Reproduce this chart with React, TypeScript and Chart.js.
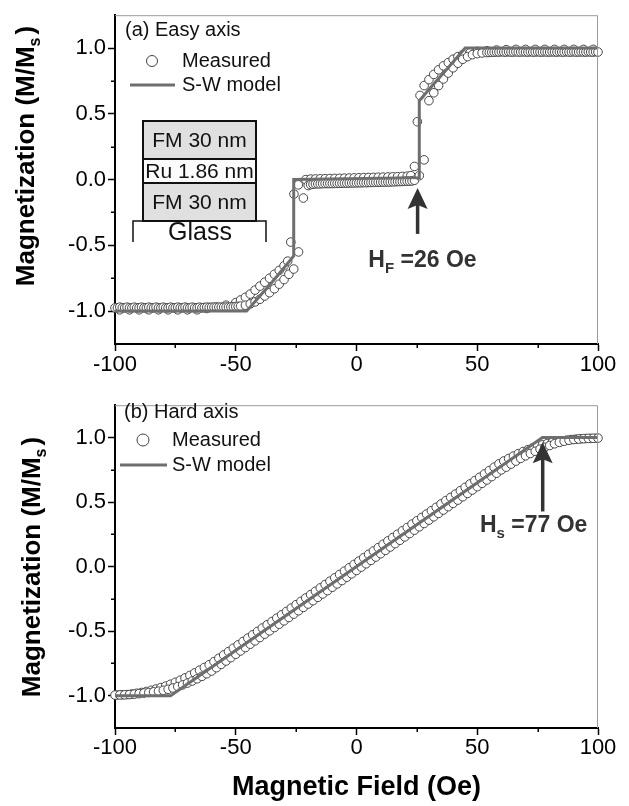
import React, { useEffect, useRef } from "react";
import { Chart, registerables } from "chart.js";

Chart.register(...registerables);

type Pt = [number, number];

const FONT = '"Liberation Sans", Arial, Helvetica, sans-serif';

// ---------- axis ticks ----------
const fieldMajorTicks = [-100, -50, 0, 50, 100];
const fieldMinorTicks = [-75, -25, 25, 75];
const magMajorTicks = [-1, -0.5, 0, 0.5, 1];
const magMinorTicks = [-0.75, -0.25, 0.25, 0.75];

// ---------- text ----------
const seriesNames = ["Measured", "S-W model"];
const panelTitles = ["(a) Easy axis", "(b) Hard axis"];
const insetLayers = ["FM 30 nm", "Ru 1.86 nm", "FM 30 nm"];
const substrateLabel = "Glass";
const xAxisTitle = "Magnetic Field (Oe)";

// ---------- (a) easy axis: measured, field sweep up ----------
const easyMeasuredUp: Pt[] = [
  [-100, -0.975], [-99, -0.975], [-98, -0.97], [-97, -0.975], [-96, -0.975], [-95, -0.97],
  [-94, -0.975], [-93, -0.975], [-92, -0.97], [-91, -0.975], [-90, -0.975], [-89, -0.97],
  [-88, -0.975], [-87, -0.975], [-86, -0.97], [-85, -0.975], [-84, -0.975], [-83, -0.97],
  [-82, -0.975], [-81, -0.975], [-80, -0.97], [-79, -0.975], [-78, -0.975], [-77, -0.97],
  [-76, -0.975], [-75, -0.975], [-74, -0.97], [-73, -0.975], [-72, -0.975], [-71, -0.97],
  [-70, -0.975], [-69, -0.975], [-68, -0.97], [-67, -0.975], [-66, -0.975], [-65, -0.97],
  [-64, -0.975], [-63, -0.972], [-62, -0.97], [-61, -0.972], [-60, -0.97], [-59, -0.97],
  [-58, -0.97], [-57, -0.97], [-56, -0.97], [-55, -0.97], [-54, -0.97], [-53, -0.969],
  [-52, -0.968], [-51, -0.967], [-50, -0.965], [-49, -0.964], [-48, -0.962], [-46, -0.955],
  [-44, -0.945], [-42, -0.93], [-40, -0.91], [-38, -0.885], [-36, -0.86], [-34, -0.83],
  [-32, -0.795], [-30, -0.76], [-28, -0.72], [-26, -0.68], [-24, -0.55], [-22, -0.14],
  [-20, -0.045], [-19, -0.038], [-18, -0.035], [-17, -0.033], [-16, -0.032], [-15, -0.032],
  [-14, -0.031], [-13, -0.03], [-12, -0.03], [-11, -0.03], [-10, -0.03], [-9, -0.029],
  [-8, -0.029], [-7, -0.028], [-6, -0.028], [-5, -0.027], [-4, -0.027], [-3, -0.026],
  [-2, -0.026], [-1, -0.025], [0, -0.025], [1, -0.024], [2, -0.024], [3, -0.023],
  [4, -0.023], [5, -0.022], [6, -0.022], [7, -0.021], [8, -0.021], [9, -0.02],
  [10, -0.02], [11, -0.019], [12, -0.019], [13, -0.018], [14, -0.018], [15, -0.017],
  [16, -0.016], [17, -0.015], [18, -0.015], [19, -0.014], [20, -0.013], [21, -0.012],
  [22, -0.012], [23, -0.01], [24, -0.005], [26, 0.03], [28, 0.15], [30, 0.6],
  [32, 0.66], [34, 0.715], [36, 0.765], [38, 0.81], [40, 0.85], [42, 0.885],
  [44, 0.915], [46, 0.935], [48, 0.95], [50, 0.958], [52, 0.963], [54, 0.966],
  [55, 0.967], [56, 0.968], [57, 0.969], [58, 0.97], [59, 0.97], [60, 0.972],
  [61, 0.97], [62, 0.97], [63, 0.972], [64, 0.97], [65, 0.97], [66, 0.972],
  [67, 0.97], [68, 0.97], [69, 0.972], [70, 0.97], [71, 0.97], [72, 0.972],
  [73, 0.97], [74, 0.97], [75, 0.972], [76, 0.97], [77, 0.97], [78, 0.972],
  [79, 0.97], [80, 0.97], [81, 0.972], [82, 0.97], [83, 0.97], [84, 0.972],
  [85, 0.97], [86, 0.97], [87, 0.972], [88, 0.97], [89, 0.97], [90, 0.972],
  [91, 0.97], [92, 0.97], [93, 0.972], [94, 0.97], [95, 0.97], [96, 0.972],
  [97, 0.97], [98, 0.97], [99, 0.972], [100, 0.97],
];

// ---------- (a) easy axis: measured, field sweep down ----------
const easyMeasuredDown: Pt[] = [
  [-98, -0.99], [-94, -0.99], [-90, -0.99], [-86, -0.99], [-82, -0.99], [-78, -0.99],
  [-74, -0.99], [-70, -0.99], [-66, -0.99], [-62, -0.98], [-58, -0.97], [-54, -0.955],
  [-50, -0.935], [-48, -0.915], [-46, -0.895], [-44, -0.87], [-42, -0.84], [-40, -0.81],
  [-38, -0.78], [-36, -0.75], [-34, -0.72], [-32, -0.69], [-30, -0.655], [-28.5, -0.62],
  [-27.2, -0.475], [-25.9, -0.11], [-24.1, -0.04], [-21, 0.0], [-19, 0.004], [-17, 0.005],
  [-15, 0.006], [-13, 0.007], [-11, 0.008], [-9, 0.009], [-7, 0.01], [-5, 0.011],
  [-3, 0.012], [-1, 0.013], [1, 0.014], [3, 0.015], [5, 0.016], [7, 0.017],
  [9, 0.018], [11, 0.019], [13, 0.02], [15, 0.021], [17, 0.022], [19, 0.024],
  [21, 0.026], [22.5, 0.03], [24, 0.1], [25.2, 0.44], [26.3, 0.64], [28, 0.715],
  [30, 0.76], [32, 0.8], [34, 0.835], [36, 0.865], [38, 0.89], [40, 0.915],
  [42, 0.935], [44, 0.95], [47, 0.965], [50, 0.975], [54, 0.98], [58, 0.985],
  [62, 0.988], [66, 0.99], [70, 0.99], [74, 0.99], [78, 0.99], [82, 0.99],
  [86, 0.99], [90, 0.99], [94, 0.99], [98, 0.99],
];

// ---------- (a) easy axis: S-W model ----------
const easyModel: Pt[] = [
  [-100, -1], [-45.5, -1], [-40, -0.885], [-35, -0.78], [-30, -0.67], [-26, -0.58],
  [-26, 0], [26, 0.015], [26, 0.6], [30, 0.685], [35, 0.79], [40, 0.895],
  [45, 1], [100, 1],
];

// ---------- (b) hard axis: measured, field sweep up ----------
const hardMeasuredUp: Pt[] = [
  [-100, -0.995], [-98, -0.994], [-96, -0.993], [-94, -0.991], [-92, -0.988], [-90, -0.984],
  [-88, -0.979], [-86, -0.975], [-84, -0.97], [-82, -0.965], [-80, -0.958], [-78, -0.95],
  [-76, -0.94], [-74, -0.929], [-72, -0.916], [-70, -0.902], [-68, -0.886], [-66, -0.869],
  [-64, -0.85], [-62, -0.83], [-60, -0.809], [-58, -0.783], [-56, -0.757], [-54, -0.731],
  [-52, -0.705], [-50, -0.679], [-48, -0.653], [-46, -0.627], [-44, -0.601], [-42, -0.575],
  [-40, -0.549], [-38, -0.523], [-36, -0.498], [-34, -0.472], [-32, -0.446], [-30, -0.42],
  [-28, -0.394], [-26, -0.368], [-24, -0.342], [-22, -0.316], [-20, -0.29], [-18, -0.264],
  [-16, -0.238], [-14, -0.212], [-12, -0.186], [-10, -0.16], [-8, -0.134], [-6, -0.108],
  [-4, -0.082], [-2, -0.056], [0, -0.03], [2, -0.004], [4, 0.022], [6, 0.048],
  [8, 0.074], [10, 0.1], [12, 0.126], [14, 0.152], [16, 0.178], [18, 0.204],
  [20, 0.23], [22, 0.256], [24, 0.282], [26, 0.308], [28, 0.334], [30, 0.36],
  [32, 0.386], [34, 0.412], [36, 0.438], [38, 0.464], [40, 0.49], [42, 0.515],
  [44, 0.541], [46, 0.567], [48, 0.593], [50, 0.619], [52, 0.645], [54, 0.671],
  [56, 0.697], [58, 0.723], [60, 0.749], [62, 0.77], [64, 0.794], [66, 0.817],
  [68, 0.838], [70, 0.858], [72, 0.876], [74, 0.893], [76, 0.91], [78, 0.924],
  [80, 0.938], [82, 0.951], [84, 0.962], [86, 0.971], [88, 0.979], [90, 0.984],
  [92, 0.988], [94, 0.991], [96, 0.993], [98, 0.994], [100, 0.995],
];

// ---------- (b) hard axis: measured, field sweep down ----------
const hardMeasuredDown: Pt[] = [
  [-99, -0.994], [-97, -0.993], [-95, -0.991], [-93, -0.987], [-91, -0.981], [-89, -0.975],
  [-87, -0.967], [-85, -0.958], [-83, -0.948], [-81, -0.937], [-79, -0.925], [-77, -0.911],
  [-75, -0.896], [-73, -0.88], [-71, -0.862], [-69, -0.843], [-67, -0.823], [-65, -0.802],
  [-63, -0.781], [-61, -0.76], [-59, -0.736], [-57, -0.71], [-55, -0.684], [-53, -0.658],
  [-51, -0.632], [-49, -0.606], [-47, -0.58], [-45, -0.554], [-43, -0.528], [-41, -0.502],
  [-39, -0.476], [-37, -0.451], [-35, -0.425], [-33, -0.399], [-31, -0.373], [-29, -0.347],
  [-27, -0.321], [-25, -0.295], [-23, -0.269], [-21, -0.243], [-19, -0.217], [-17, -0.191],
  [-15, -0.165], [-13, -0.139], [-11, -0.113], [-9, -0.087], [-7, -0.061], [-5, -0.035],
  [-3, -0.009], [-1, 0.017], [1, 0.043], [3, 0.069], [5, 0.095], [7, 0.121],
  [9, 0.147], [11, 0.173], [13, 0.199], [15, 0.225], [17, 0.251], [19, 0.277],
  [21, 0.303], [23, 0.329], [25, 0.355], [27, 0.381], [29, 0.407], [31, 0.433],
  [33, 0.459], [35, 0.485], [37, 0.511], [39, 0.536], [41, 0.562], [43, 0.588],
  [45, 0.614], [47, 0.64], [49, 0.666], [51, 0.692], [53, 0.718], [55, 0.744],
  [57, 0.77], [59, 0.796], [61, 0.818], [63, 0.837], [65, 0.856], [67, 0.875],
  [69, 0.891], [71, 0.906], [73, 0.92], [75, 0.932], [77, 0.943], [79, 0.953],
  [81, 0.961], [83, 0.968], [85, 0.974], [87, 0.979], [89, 0.984], [91, 0.987],
  [93, 0.99], [95, 0.992], [97, 0.993], [99, 0.994],
];

// ---------- (b) hard axis: S-W model ----------
const hardModel: Pt[] = [
  [-100, -1], [-77, -1], [77, 1], [100, 1],
];

// ---------- annotations (field / magnetization values they point at) ----------
const easyAnnotation = { main: "H", sub: "F", rest: " =26 Oe", arrowField: 25.3, tipMag: -0.064, tailMag: -0.413, textField: 4.9, textMag: -0.663 };
const hardAnnotation = { main: "H", sub: "s", rest: " =77 Oe", arrowField: 77.1, tipMag: 0.963, tailMag: 0.427, textField: 51.1, textMag: 0.265 };

interface PanelSpec {
  height: number;
  padTop: number;
  xAxisHeight: number;
  tickPad: number;
  measured: Pt[][];
  model: Pt[];
  title: string;
  legend: { titleX: number; titleY: number; circleX: number; circleY: number; circleR: number; lineX0: number; lineX1: number; lineY: number; textX: number };
  yTitleX: number;
  yTitleY: number;
  annotation: typeof easyAnnotation;
  inset: boolean;
  xTitleY: number | null;
}

const easySpec: PanelSpec = {
  height: 390,
  padTop: 8,
  xAxisHeight: 46,
  tickPad: 1,
  measured: [easyMeasuredUp, easyMeasuredDown],
  model: easyModel,
  title: panelTitles[0],
  legend: { titleX: 125, titleY: 30, circleX: 152, circleY: 61, circleR: 5.5, lineX0: 130, lineX1: 175, lineY: 85, textX: 182 },
  yTitleX: 34,
  yTitleY: 156,
  annotation: easyAnnotation,
  inset: true,
  xTitleY: null,
};

const hardSpec: PanelSpec = {
  height: 416,
  padTop: 3,
  xAxisHeight: 78,
  tickPad: 0,
  measured: [hardMeasuredUp, hardMeasuredDown],
  model: hardModel,
  title: panelTitles[1],
  legend: { titleX: 124, titleY: 22, circleX: 143, circleY: 50, circleR: 6, lineX0: 120, lineX1: 167, lineY: 75, textX: 172 },
  yTitleX: 40,
  yTitleY: 177,
  annotation: hardAnnotation,
  inset: false,
  xTitleY: 405,
};

type Part = { t: string; size: number; bold?: boolean; dy?: number; gap?: number };

function fontOf(p: Part) {
  return `${p.bold ? "bold " : ""}${p.size}px ${FONT}`;
}

function drawRich(ctx: CanvasRenderingContext2D, parts: Part[], x: number, y: number, align: "left" | "center") {
  ctx.textBaseline = "alphabetic";
  ctx.textAlign = "left";
  const widths = parts.map((p) => {
    ctx.font = fontOf(p);
    return ctx.measureText(p.t).width + (p.gap || 0);
  });
  const total = widths.reduce((a, b) => a + b, 0);
  let cx = align === "center" ? x - total / 2 : x;
  parts.forEach((p, i) => {
    ctx.font = fontOf(p);
    ctx.fillText(p.t, cx, y + (p.dy || 0));
    cx += widths[i];
  });
}

function decorPlugin(spec: PanelSpec) {
  return {
    id: "decor",
    afterDraw(chart: any) {
      const ctx: CanvasRenderingContext2D = chart.ctx;
      const area = chart.chartArea;
      const xs = chart.scales.x;
      const ys = chart.scales.y;
      ctx.save();

      // frame (top + right)
      ctx.strokeStyle = "#9a9a9a";
      ctx.lineWidth = 1;
      ctx.beginPath();
      ctx.moveTo(area.left, area.top + 0.5);
      ctx.lineTo(area.right - 0.5, area.top + 0.5);
      ctx.lineTo(area.right - 0.5, area.bottom);
      ctx.stroke();

      // minor ticks
      ctx.strokeStyle = "#000";
      ctx.lineWidth = 1.5;
      ctx.beginPath();
      fieldMinorTicks.forEach((v) => {
        const px = Math.round(xs.getPixelForValue(v)) + 0.25;
        ctx.moveTo(px, area.bottom);
        ctx.lineTo(px, area.bottom + 4);
      });
      magMinorTicks.forEach((v) => {
        const py = Math.round(ys.getPixelForValue(v)) + 0.25;
        ctx.moveTo(area.left, py);
        ctx.lineTo(area.left - 4, py);
      });
      ctx.stroke();

      ctx.fillStyle = "#000";
      // y-axis title
      ctx.save();
      ctx.translate(spec.yTitleX, spec.yTitleY);
      ctx.rotate(-Math.PI / 2);
      drawRich(
        ctx,
        [
          { t: "Magnetization (M/M", size: 26, bold: true },
          { t: "s", size: 16, bold: true, dy: 6, gap: 3 },
          { t: ")", size: 26, bold: true },
        ],
        0,
        0,
        "center"
      );
      ctx.restore();

      // x-axis title
      if (spec.xTitleY !== null) {
        drawRich(ctx, [{ t: xAxisTitle, size: 27, bold: true }], (area.left + area.right) / 2, spec.xTitleY, "center");
      }

      // legend
      const lg = spec.legend;
      ctx.font = `20px ${FONT}`;
      ctx.textBaseline = "middle";
      ctx.textAlign = "left";
      ctx.fillStyle = "#111";
      ctx.fillText(spec.title, lg.titleX, lg.titleY);
      ctx.fillText(seriesNames[0], lg.textX, lg.circleY);
      ctx.fillText(seriesNames[1], lg.textX, lg.lineY);
      ctx.beginPath();
      ctx.arc(lg.circleX, lg.circleY, lg.circleR, 0, Math.PI * 2);
      ctx.fillStyle = "#fff";
      ctx.fill();
      ctx.strokeStyle = "#404040";
      ctx.lineWidth = 1;
      ctx.stroke();
      ctx.beginPath();
      ctx.moveTo(lg.lineX0, lg.lineY);
      ctx.lineTo(lg.lineX1, lg.lineY);
      ctx.strokeStyle = "#6e6e6e";
      ctx.lineWidth = 3;
      ctx.stroke();

      // arrow + annotation
      const an = spec.annotation;
      const ax = xs.getPixelForValue(an.arrowField);
      const tipY = ys.getPixelForValue(an.tipMag);
      const tailY = ys.getPixelForValue(an.tailMag);
      ctx.fillStyle = "#333";
      ctx.strokeStyle = "#333";
      ctx.lineWidth = 3.5;
      ctx.beginPath();
      ctx.moveTo(ax, tailY);
      ctx.lineTo(ax, tipY + 15);
      ctx.stroke();
      ctx.beginPath();
      ctx.moveTo(ax, tipY);
      ctx.lineTo(ax - 10, tipY + 21);
      ctx.lineTo(ax, tipY + 17);
      ctx.lineTo(ax + 10, tipY + 21);
      ctx.closePath();
      ctx.fill();
      drawRich(
        ctx,
        [
          { t: an.main, size: 23, bold: true },
          { t: an.sub, size: 15, bold: true, dy: 6 },
          { t: an.rest, size: 23, bold: true },
        ],
        xs.getPixelForValue(an.textField),
        ys.getPixelForValue(an.textMag),
        "left"
      );

      // layer stack inset
      if (spec.inset) {
        const x0 = 143, x1 = 256;
        const yb = [121, 159, 183, 221];
        const fills = ["#e0e0e0", "#fbfbfb", "#e0e0e0"];
        for (let i = 0; i < 3; i++) {
          ctx.fillStyle = fills[i];
          ctx.fillRect(x0, yb[i], x1 - x0, yb[i + 1] - yb[i]);
          ctx.strokeStyle = "#111";
          ctx.lineWidth = 2;
          ctx.strokeRect(x0, yb[i], x1 - x0, yb[i + 1] - yb[i]);
          ctx.fillStyle = "#111";
          ctx.font = `21px ${FONT}`;
          ctx.textAlign = "center";
          ctx.textBaseline = "middle";
          ctx.fillText(insetLayers[i], (x0 + x1) / 2, (yb[i] + yb[i + 1]) / 2 + 1);
        }
        ctx.strokeStyle = "#111";
        ctx.lineWidth = 1.5;
        ctx.beginPath();
        ctx.moveTo(133, 242);
        ctx.lineTo(133, 221);
        ctx.lineTo(266, 221);
        ctx.lineTo(266, 242);
        ctx.stroke();
        ctx.fillStyle = "#111";
        ctx.font = `25px ${FONT}`;
        ctx.textAlign = "center";
        ctx.textBaseline = "alphabetic";
        ctx.fillText(substrateLabel, 200, 240);
      }
      ctx.restore();
    },
  };
}

function buildConfig(spec: PanelSpec): any {
  const measuredSets = spec.measured.map((pts, i) => ({
    label: seriesNames[0] + (i ? " (down)" : ""),
    data: pts.map(([x, y]) => ({ x, y })),
    showLine: false,
    pointStyle: "circle",
    pointRadius: 4.3,
    pointBorderWidth: 1,
    pointBorderColor: "#454545",
    pointBackgroundColor: "#ffffff",
    clip: false,
    order: 2 + i,
  }));
  return {
    type: "scatter",
    data: {
      datasets: [
        {
          label: seriesNames[1],
          data: spec.model.map(([x, y]) => ({ x, y })),
          showLine: true,
          borderColor: "#6e6e6e",
          borderWidth: 3,
          pointRadius: 0,
          tension: 0,
          order: 0,
        },
        ...measuredSets,
      ],
    },
    options: {
      responsive: false,
      animation: false,
      devicePixelRatio: 1,
      layout: { padding: { left: 0, right: 31, top: spec.padTop, bottom: 0 } },
      plugins: { legend: { display: false }, tooltip: { enabled: false }, title: { display: false } },
      scales: {
        x: {
          type: "linear",
          position: "bottom",
          min: -100,
          max: 100,
          afterBuildTicks: (s: any) => {
            s.ticks = fieldMajorTicks.map((v) => ({ value: v }));
          },
          afterFit: (s: any) => {
            s.height = spec.xAxisHeight;
          },
          ticks: {
            callback: (v: any) => String(v),
            font: { family: FONT, size: 22 },
            color: "#000",
            padding: spec.tickPad,
            maxRotation: 0,
            autoSkip: false,
          },
          grid: { display: true, drawOnChartArea: false, drawTicks: true, tickLength: 7, tickWidth: 1.5, tickColor: "#000" },
          border: { display: true, color: "#000", width: 2 },
        },
        y: {
          type: "linear",
          position: "left",
          min: -1.25,
          max: 1.25,
          afterBuildTicks: (s: any) => {
            s.ticks = magMajorTicks.map((v) => ({ value: v }));
          },
          afterFit: (s: any) => {
            s.width = 115;
          },
          ticks: {
            callback: (v: any) => Number(v).toFixed(1),
            font: { family: FONT, size: 22 },
            color: "#000",
            padding: 2,
            autoSkip: false,
          },
          grid: { display: true, drawOnChartArea: false, drawTicks: true, tickLength: 7, tickWidth: 1.5, tickColor: "#000" },
          border: { display: true, color: "#000", width: 2 },
        },
      },
    },
    plugins: [decorPlugin(spec)],
  };
}

function Panel({ spec }: { spec: PanelSpec }) {
  const ref = useRef<HTMLCanvasElement | null>(null);
  useEffect(() => {
    if (!ref.current) return;
    const chart = new Chart(ref.current, buildConfig(spec));
    return () => chart.destroy();
  }, [spec]);
  return (
    <canvas
      ref={ref}
      width={629}
      height={spec.height}
      style={{ display: "block", width: 629, height: spec.height }}
    />
  );
}

export default function App() {
  useEffect(() => {
    document.body.style.margin = "0";
    document.body.style.background = "#fff";
  }, []);
  return (
    <div style={{ width: 629, height: 806, background: "#fff", overflow: "hidden" }}>
      <Panel spec={easySpec} />
      <Panel spec={hardSpec} />
    </div>
  );
}
